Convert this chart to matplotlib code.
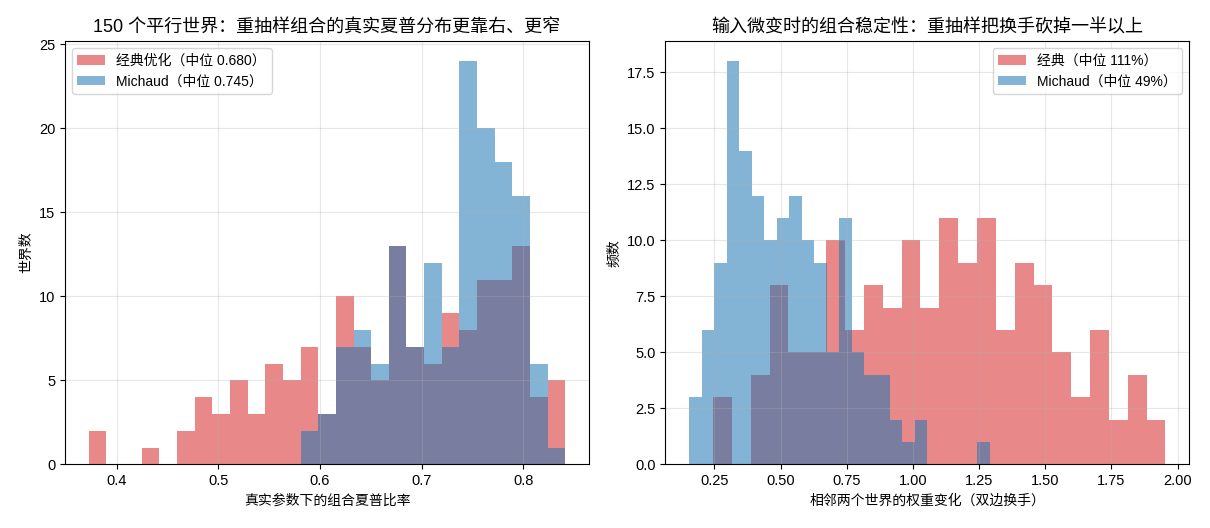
import matplotlib
matplotlib.use('Agg')
import matplotlib.pyplot as plt
import numpy as np

plt.rcParams['font.family'] = ['Liberation Sans', 'Noto Sans CJK SC', 'DejaVu Sans']
plt.rcParams['axes.unicode_minus'] = False

# Left panel: realised Sharpe ratio of the portfolio in 150 worlds (27 shared bins)
sharpe_lo, sharpe_hi = 0.3727, 0.8413
sharpe_classic = [2, 0, 0, 1, 0, 2, 4, 3, 5, 3, 6, 5, 7, 3, 10, 7, 5, 13, 7, 6, 9, 8, 11, 11, 13, 4, 5]
sharpe_michaud = [0, 0, 0, 0, 0, 0, 0, 0, 0, 0, 0, 0, 2, 3, 7, 8, 6, 13, 7, 12, 7, 24, 20, 18, 16, 6, 1]

# Right panel: two-sided turnover between adjacent worlds (24 bins each)
turn_classic_lo, turn_classic_hi = 0.2447, 1.9545
turn_classic = [3, 0, 4, 8, 5, 5, 10, 6, 8, 7, 10, 7, 11, 9, 11, 6, 9, 8, 5, 3, 6, 2, 4, 2]
turn_michaud_lo, turn_michaud_hi = 0.1536, 1.2907
turn_michaud = [3, 6, 9, 18, 14, 12, 10, 11, 12, 10, 9, 5, 11, 5, 4, 4, 2, 1, 2, 0, 0, 0, 0, 1]

c_red = '#d62728'
c_blue = '#1f77b4'


def draw_hist(ax, lo, hi, counts, color, label):
    edges = np.linspace(lo, hi, len(counts) + 1)
    centers = (edges[:-1] + edges[1:]) / 2
    ax.hist(centers, bins=edges, weights=counts, color=color, alpha=0.55, label=label)


fig, (ax1, ax2) = plt.subplots(1, 2, figsize=(12.1, 5.28), dpi=100)
fig.subplots_adjust(left=0.0537, right=0.9829, bottom=0.1206, top=0.9223, wspace=0.145)

# left
draw_hist(ax1, sharpe_lo, sharpe_hi, sharpe_classic, c_red, '经典优化（中位 0.680）')
draw_hist(ax1, sharpe_lo, sharpe_hi, sharpe_michaud, c_blue, 'Michaud（中位 0.745）')
ax1.set_title('150 个平行世界：重抽样组合的真实夏普分布更靠右、更窄', fontsize=13)
ax1.set_xlabel('真实参数下的组合夏普比率', fontsize=10)
ax1.set_ylabel('世界数', fontsize=10)
ax1.legend(loc='upper left', fontsize=10)
ax1.grid(alpha=0.3)

# right
draw_hist(ax2, turn_classic_lo, turn_classic_hi, turn_classic, c_red, '经典（中位 111%）')
draw_hist(ax2, turn_michaud_lo, turn_michaud_hi, turn_michaud, c_blue, 'Michaud（中位 49%）')
ax2.set_title('输入微变时的组合稳定性：重抽样把换手砍掉一半以上', fontsize=13)
ax2.set_xlabel('相邻两个世界的权重变化（双边换手）', fontsize=10)
ax2.set_ylabel('频数', fontsize=10)
ax2.legend(loc='upper right', fontsize=10)
ax2.grid(alpha=0.3)

for ax in (ax1, ax2):
    ax.tick_params(labelsize=10.5)

fig.savefig('out.png', dpi=100)
